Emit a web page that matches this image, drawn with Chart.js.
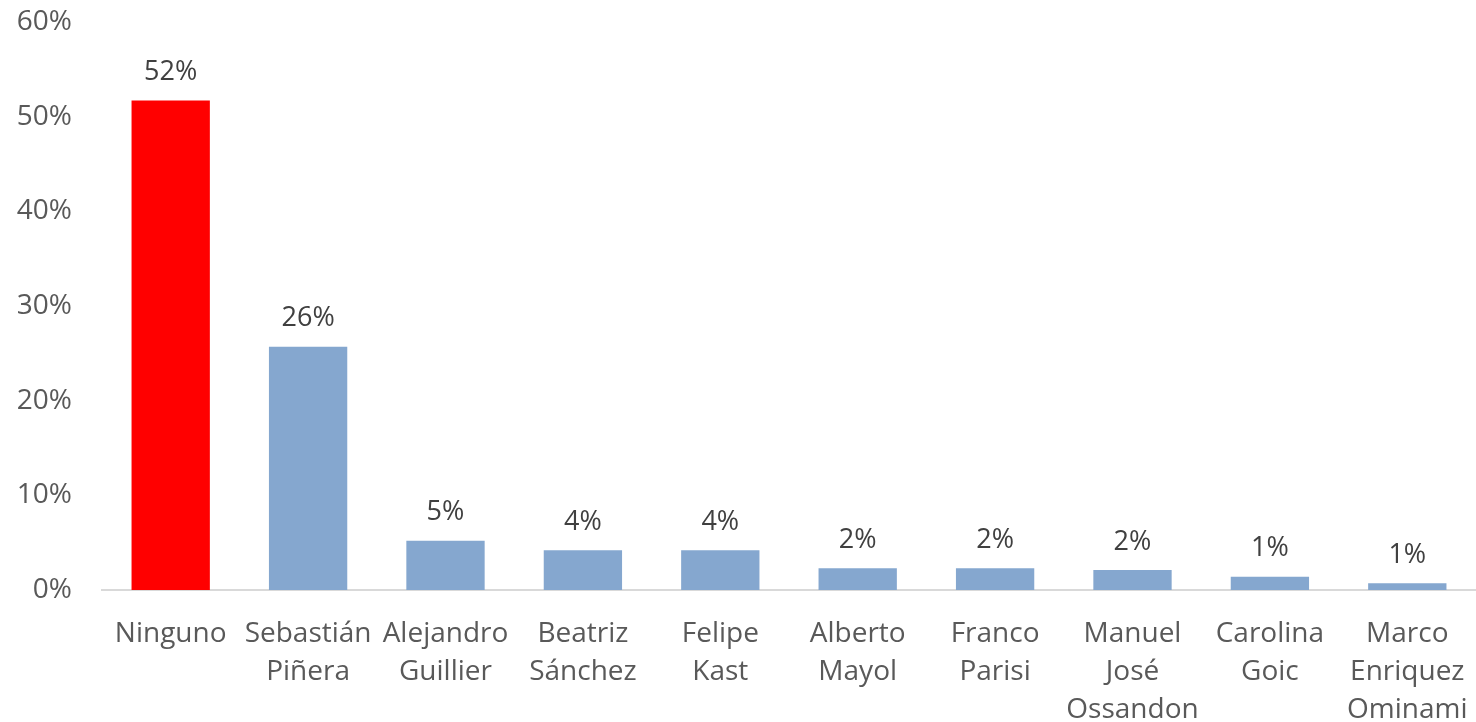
<!DOCTYPE html>
<html>
<head>
<meta charset="utf-8">
<script src="https://cdn.jsdelivr.net/npm/chart.js@4.4.0/dist/chart.umd.min.js"></script>
<style>
  html, body { margin: 0; padding: 0; background: #fff; }
  #wrap { width: 1476px; height: 722px; }
</style>
</head>
<body>
<div id="wrap"><canvas id="myChart"></canvas></div>
<script>
'use strict';
let candidates = [
  ['Ninguno'], ['Sebastián', 'Piñera'], ['Alejandro', 'Guillier'], ['Beatriz', 'Sánchez'],
  ['Felipe', 'Kast'], ['Alberto', 'Mayol'], ['Franco', 'Parisi'], ['Manuel', 'José', 'Ossandon'],
  ['Carolina', 'Goic'], ['Marco', 'Enriquez', 'Ominami']
];
let percents = [51.7, 25.7, 5.2, 4.2, 4.2, 2.3, 2.3, 2.1, 1.4, 0.7];
let barColors = ['#FF0000', '#85A7CF', '#85A7CF', '#85A7CF', '#85A7CF', '#85A7CF', '#85A7CF', '#85A7CF', '#85A7CF', '#85A7CF'];
let yTicks = [0, 10, 20, 30, 40, 50, 60];

let fontName = '"Open Sans", sans-serif';

// draws the "52%" style labels above each bar
let valueLabels = {
  id: 'valueLabels',
  afterDatasetsDraw(chart) {
    let ctx = chart.ctx;
    let meta = chart.getDatasetMeta(0);
    ctx.save();
    ctx.font = '27px ' + fontName;
    ctx.fillStyle = '#404040';
    ctx.textAlign = 'center';
    ctx.textBaseline = 'middle';
    meta.data.forEach(function (bar, i) {
      ctx.fillText(Math.round(percents[i]) + '%', bar.x, bar.y - 28);
    });
    ctx.restore();
  }
};

let ctx = document.getElementById('myChart').getContext('2d');
let myChart = new Chart(ctx, {
  type: 'bar',
  data: {
    labels: candidates,
    datasets: [{
      data: percents,
      backgroundColor: barColors,
      barPercentage: 0.57,
      categoryPercentage: 1
    }]
  },
  options: {
    responsive: true,
    maintainAspectRatio: false,
    animation: false,
    layout: { padding: { top: 0, right: 0, bottom: 0, left: 0 } },
    plugins: { legend: { display: false }, tooltip: { enabled: false } },
    scales: {
      x: {
        afterFit(scale) { scale.height = 132; scale.paddingLeft = 0; scale.paddingRight = 0; },
        grid: { display: false },
        border: { display: true, color: '#D9D9D9', width: 2 },
        ticks: {
          color: '#595959',
          font: { family: fontName, size: 28, lineHeight: 1.36 },
          padding: 17,
          maxRotation: 0,
          autoSkip: false
        }
      },
      y: {
        min: 0,
        max: 60,
        afterFit(scale) { scale.width = 102; scale.paddingTop = 22; },
        afterBuildTicks(scale) { scale.ticks = yTicks.map(v => ({ value: v })); },
        grid: { display: false, drawTicks: false },
        border: { display: false },
        ticks: {
          color: '#595959',
          font: { family: fontName, size: 28 },
          padding: 30,
          callback: v => v + '%'
        }
      }
    }
  },
  plugins: [valueLabels]
});
</script>
</body>
</html>
